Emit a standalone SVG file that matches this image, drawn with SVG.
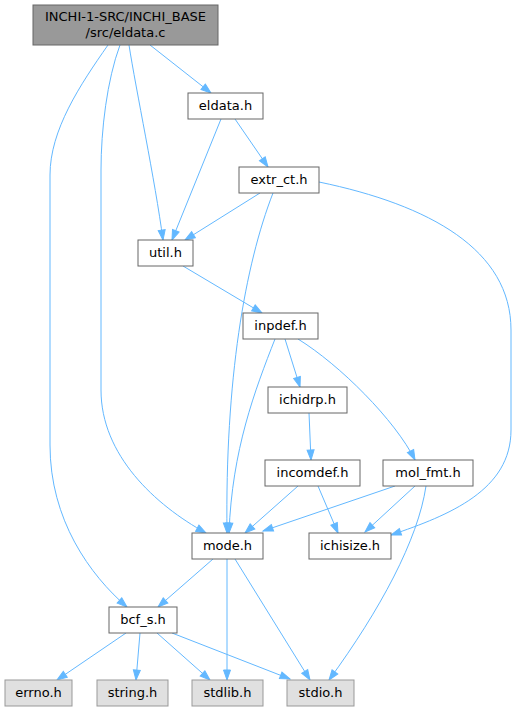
<svg xmlns="http://www.w3.org/2000/svg" width="517" height="711" viewBox="0 0 517 711">
<defs>
<style>
.n rect{fill:#ffffff;stroke:#666666;stroke-width:1}
.g rect{fill:#e0e0e0;stroke:#999999;stroke-width:1}
.t rect{fill:#999999;stroke:#666666;stroke-width:1}
text{font-family:"DejaVu Sans",sans-serif;font-size:13px;fill:#000000;text-anchor:middle}
#edges path{fill:none;stroke:#63b8ff;stroke-width:1;marker-end:url(#arr)}
</style>
<marker id="arr" markerWidth="11" markerHeight="8" refX="10" refY="3.5" orient="auto" markerUnits="userSpaceOnUse" overflow="visible">
<path d="M0,0 L10,3.5 L0,7 z" fill="#63b8ff" stroke="#63b8ff" stroke-width="1"/>
</marker>
</defs>
<rect x="0" y="0" width="517" height="711" fill="#ffffff"/>
<g id="edges">
<path d="M150,45 L211,93"/>
<path d="M129,45 C136,90 155,180 163,240"/>
<path d="M120,45 C107,80 101,130 101,170 L101,390 C101,455 155,505 206,533"/>
<path d="M108,45 C80,85 50,130 50,175 L50,445 C50,520 90,575 127,607"/>
<path d="M221,119 L172,240"/>
<path d="M235,119 L268,167"/>
<path d="M260,193 L185,240"/>
<path d="M273,193 C245,265 225,380 227,533"/>
<path d="M319,182 C430,205 511,250 511,330 L511,430 C511,490 450,515 391,535"/>
<path d="M183,266 L262,313"/>
<path d="M275,339 C255,390 232,450 229,533"/>
<path d="M285,339 L300,387"/>
<path d="M298,339 C340,365 395,420 415,460"/>
<path d="M309,413 L311,460"/>
<path d="M298,486 L245,533"/>
<path d="M318,486 L338,533"/>
<path d="M395,486 L263,531"/>
<path d="M415,486 L365,532"/>
<path d="M426,486 C418,540 380,610 329,680"/>
<path d="M213,559 L158,607"/>
<path d="M227,559 L227,680"/>
<path d="M235,559 L310,680"/>
<path d="M126,633 L57,680"/>
<path d="M140,633 L136,680"/>
<path d="M157,633 L210,680"/>
<path d="M172,633 L290,679"/>
</g>
<g id="node_eldata_c" class="t"><rect x="33" y="5" width="185" height="40"/><text x="125.5" y="21">INCHI-1-SRC/INCHI_BASE</text><text x="125.5" y="36.5">/src/eldata.c</text></g>
<g id="node_eldata_h" class="n"><rect x="188" y="93" width="75" height="26"/><text x="225.5" y="110">eldata.h</text></g>
<g id="node_extr_ct_h" class="n"><rect x="239" y="167" width="80" height="26"/><text x="279" y="184">extr_ct.h</text></g>
<g id="node_util_h" class="n"><rect x="138" y="240" width="55" height="26"/><text x="165.5" y="257">util.h</text></g>
<g id="node_inpdef_h" class="n"><rect x="243" y="313" width="75" height="26"/><text x="280.5" y="330">inpdef.h</text></g>
<g id="node_ichidrp_h" class="n"><rect x="268" y="387" width="79" height="26"/><text x="307.5" y="404">ichidrp.h</text></g>
<g id="node_incomdef_h" class="n"><rect x="265" y="460" width="95" height="26"/><text x="312.5" y="477">incomdef.h</text></g>
<g id="node_mol_fmt_h" class="n"><rect x="383" y="460" width="90" height="26"/><text x="428" y="477">mol_fmt.h</text></g>
<g id="node_mode_h" class="n"><rect x="192" y="533" width="71" height="26"/><text x="227.5" y="550">mode.h</text></g>
<g id="node_ichisize_h" class="n"><rect x="309" y="533" width="82" height="26"/><text x="350" y="550">ichisize.h</text></g>
<g id="node_bcf_s_h" class="n"><rect x="109" y="607" width="68" height="26"/><text x="143" y="624">bcf_s.h</text></g>
<g id="node_errno_h" class="g"><rect x="5" y="680" width="67" height="26"/><text x="38.5" y="697">errno.h</text></g>
<g id="node_string_h" class="g"><rect x="97" y="680" width="71" height="26"/><text x="132.5" y="697">string.h</text></g>
<g id="node_stdlib_h" class="g"><rect x="192" y="680" width="71" height="26"/><text x="227.5" y="697">stdlib.h</text></g>
<g id="node_stdio_h" class="g"><rect x="287" y="680" width="67" height="26"/><text x="320.5" y="697">stdio.h</text></g>
</svg>
